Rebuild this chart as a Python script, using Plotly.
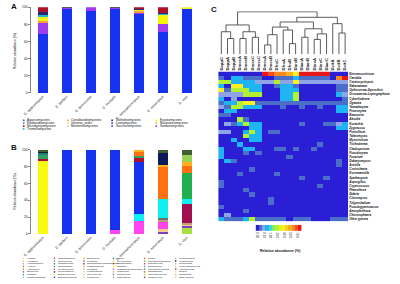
import plotly.graph_objects as go

W, H = 400, 284
def fx(x): return x / W
def fy(y): return 1 - y / H
FONT = "Arial, Liberation Sans, sans-serif"

# ---------------- data: panel A (classes) ----------------
species = ["D. approximatus", "D. barberi", "D. brevicomis", "D. frontalis",
           "D. mesoamericanus", "D. mexicanus", "D. vitei"]

classes_legend = ["Agaricomycetes", "Cystobasidiomycetes", "Dothideomycetes", "Eurotiomycetes",
                  "Exobasidiomycetes", "Incertae_sedis", "Leotiomycetes", "Malasseziomycetes",
                  "Microbotryomycetes", "Mortierellomycetes", "Saccharomycetes", "Sordariomycetes",
                  "Tremellomycetes"]
class_colors = {"Agaricomycetes": "#2f5fd0", "Cystobasidiomycetes": "#f0a040",
                "Dothideomycetes": "#2a2a70", "Eurotiomycetes": "#f5f50a",
                "Exobasidiomycetes": "#3a90d0", "Incertae_sedis": "#f0dca0",
                "Leotiomycetes": "#6a4aa0", "Malasseziomycetes": "#f0c000",
                "Microbotryomycetes": "#b0102a", "Mortierellomycetes": "#e0c0a0",
                "Saccharomycetes": "#1432f0", "Sordariomycetes": "#a03cf0",
                "Tremellomycetes": "#20b8d8"}
saccharomycetes = [69, 98.5, 95.8, 98.5, 92, 70.5, 98.5]
sordariomycetes = [13, 0.5, 4.2, 0.5, 2, 9.2, 0]
cystobasidiomycetes = [2, 0, 0, 0, 1.5, 0, 0]
eurotiomycetes = [5, 0.5, 0, 0.5, 1.5, 11.1, 1.5]
tremellomycetes = [2, 0, 0, 0, 0, 2, 0]
dothideomycetes = [3, 0.5, 0, 0.5, 1.5, 0.2, 0]
microbotryomycetes = [6, 0, 0, 0, 1.5, 7, 0]
class_stack = [("Saccharomycetes", saccharomycetes), ("Sordariomycetes", sordariomycetes),
               ("Cystobasidiomycetes", cystobasidiomycetes), ("Eurotiomycetes", eurotiomycetes),
               ("Tremellomycetes", tremellomycetes), ("Dothideomycetes", dothideomycetes),
               ("Microbotryomycetes", microbotryomycetes)]

# ---------------- data: panel B (genera) ----------------
g_debaryomyces = [0, 0, 0, 0, 0, 0, 8]
g_beauveria = [0, 0, 0, 0, 0, 3, 2]
g_absidia = [0, 0, 0, 0, 0, 3, 2]
g_ophiostoma = [0, 0, 0, 5.5, 16, 9, 0]
g_penicillium = [0, 0, 0, 0, 0, 3, 2]
g_fusarium = [0, 0, 0, 0, 0, 2, 0]
g_grosmannia = [0, 0, 0, 0, 0, 0, 22]
g_ceratocystiopsis = [0, 0, 0, 0, 8, 22, 6]
g_entomocorticium = [0, 100, 100, 94.5, 62, 0, 0]
g_ogataea = [87, 0, 0, 0, 0, 0, 0]
g_yamadazyma = [2.5, 0, 0, 0, 5, 0, 0]
g_peterozyma = [5, 0, 0, 0, 2, 0, 0]
g_candida = [0, 0, 0, 0, 0, 0, 31]
g_nakazawaea = [0, 0, 0, 0, 5, 38, 8]
g_zygoascus = [0, 0, 0, 0, 2, 2, 5]
g_cyberlindnera = [0, 0, 0, 0, 0, 14, 0]
g_kuraishia = [0, 0, 0, 0, 0, 0, 8]
g_cladosporium = [1.5, 0, 0, 0, 0, 0, 0]
g_trichoderma = [2.5, 0, 0, 0, 0, 0, 0]
g_talaromyces = [1.5, 0, 0, 0, 0, 4, 6]
genus_stack = [("Debaryomyces", g_debaryomyces, "#a8e040"), ("Beauveria", g_beauveria, "#8040c0"),
               ("Absidia", g_absidia, "#ffc890"), ("Ophiostoma-Sporothrix", g_ophiostoma, "#ff44f0"),
               ("Penicillium", g_penicillium, "#c0a070"), ("Fusarium", g_fusarium, "#707070"),
               ("Grosmannia-Leptographium", g_grosmannia, "#a01050"),
               ("Ceratocystiopsis", g_ceratocystiopsis, "#10f0f0"),
               ("Entomocorticium", g_entomocorticium, "#1432f0"), ("Ogataea", g_ogataea, "#f8f810"),
               ("Yamadazyma", g_yamadazyma, "#b01030"), ("Peterozyma", g_peterozyma, "#30a060"),
               ("Candida", g_candida, "#20b050"), ("Nakazawaea", g_nakazawaea, "#ff7010"),
               ("Zygoascus", g_zygoascus, "#ffb020"), ("Cyberlindnera", g_cyberlindnera, "#0a1a5a"),
               ("Kuraishia", g_kuraishia, "#98d058"), ("Cladosporium", g_cladosporium, "#208080"),
               ("Trichoderma", g_trichoderma, "#202020"), ("Talaromyces", g_talaromyces, "#406030")]
extra_genera = ["Alternaria", "Amorphotheca", "Arxiella", "Aspergillus", "Chionosphaera",
                "Citeromyces", "Coniochaeta", "Cryptococcus", "Epicoccum", "Hanseniaspora",
                "Kurtzmaniella", "Meyerozyma", "Mortierella", "Mucor", "Myxotrichum",
                "Phaeotheca", "Pichia", "Pseudogymnoascus", "Pseudozyma", "Rhodotorula",
                "Saccharomycopsis", "Spathaspora", "Sporobolomyces", "Tolypocladium",
                "Umbelopsis", "Wickerhamomyces", "Zalaria"]
extra_palette = ["#e6c84a", "#9e9ac8", "#d95f02", "#66a61e", "#e7298a", "#7570b3", "#1b9e77",
                 "#a6761d", "#e6ab02", "#fb9a99", "#cab2d6", "#b2df8a", "#fdbf6f", "#1f78b4"]

# ---------------- data: panel C (heatmap) ----------------
samples = ["DappC", "DappA", "DappB", "DmexA", "DmexB", "DmexC", "DmesC",
           "DmesA", "DmesB", "DfroC", "DfroA", "DfroB", "DbreB", "DbarA",
           "DbarB", "DbreA", "DbreC", "DbarC", "DvitA", "DvitB", "DvitC"]
heat_genera = ["Entomocorticium", "Candida", "Ceratocystiopsis", "Nakazawaea",
               "Ophiostoma-Sporothrix", "Grosmannia-Leptographium", "Cyberlindnera", "Ogataea",
               "Yamadazyma", "Peterozyma", "Beauveria", "Absidia", "Kuraishia", "Zygoascus",
               "Penicillium", "Talaromyces", "Myxotrichum", "Trichoderma", "Cladosporium",
               "Pseudozyma", "Fusarium", "Debaryomyces", "Arxiella", "Coniochaeta",
               "Kurtzmaniella", "Spathaspora", "Aspergillus", "Cryptococcus", "Phaeotheca",
               "Zalaria", "Citeromyces", "Tolypocladium", "Pseudogymnoascus", "Amorphotheca",
               "Chionosphaera", "Other genera"]
# abundance class (index into abundance_bins) per genus, per sample
heat_classes = [
    [0, 0, 0, 0, 0, 0, 0, 13, 12, 11, 11, 10, 8, 13, 13, 13, 13, 13, 0, 0, 0],
    [1, 0, 3, 3, 1, 1, 1, 0, 0, 1, 1, 1, 3, 1, 1, 1, 1, 1, 0, 11, 13],
    [6, 6, 3, 3, 3, 3, 2, 2, 2, 6, 2, 2, 8, 2, 2, 2, 2, 2, 2, 2, 2],
    [3, 0, 8, 8, 3, 3, 3, 0, 0, 1, 3, 3, 1, 0, 0, 0, 0, 0, 0, 1, 1],
    [8, 1, 6, 6, 6, 3, 3, 0, 0, 0, 3, 3, 3, 0, 0, 0, 0, 0, 0, 1, 1],
    [2, 2, 2, 2, 6, 6, 6, 0, 0, 0, 3, 3, 6, 0, 0, 0, 0, 0, 0, 3, 2],
    [3, 0, 2, 0, 0, 0, 0, 0, 0, 0, 3, 3, 6, 0, 0, 0, 0, 0, 0, 0, 1],
    [1, 3, 3, 6, 8, 8, 1, 1, 1, 1, 1, 1, 1, 1, 1, 1, 1, 1, 1, 1, 1],
    [2, 1, 6, 6, 3, 3, 3, 0, 0, 0, 1, 0, 0, 1, 0, 0, 1, 0, 0, 3, 3],
    [0, 3, 3, 0, 0, 0, 0, 0, 0, 0, 0, 0, 0, 0, 0, 0, 0, 0, 0, 3, 3],
    [1, 1, 0, 0, 0, 0, 0, 0, 0, 0, 0, 0, 0, 0, 0, 0, 0, 0, 0, 0, 0],
    [0, 0, 0, 6, 1, 0, 0, 0, 0, 0, 0, 0, 0, 0, 0, 0, 0, 0, 0, 0, 0],
    [0, 2, 1, 3, 6, 3, 3, 0, 0, 0, 0, 0, 0, 1, 0, 0, 0, 1, 1, 2, 3],
    [0, 0, 0, 0, 0, 3, 3, 0, 0, 0, 0, 0, 0, 0, 0, 0, 0, 0, 0, 3, 3],
    [2, 2, 0, 0, 3, 6, 3, 0, 1, 1, 0, 0, 0, 0, 0, 0, 0, 0, 0, 0, 0],
    [0, 0, 0, 0, 6, 3, 3, 0, 0, 0, 0, 0, 0, 0, 0, 0, 0, 0, 0, 0, 0],
    [0, 0, 3, 0, 0, 3, 3, 0, 0, 0, 0, 0, 0, 0, 0, 0, 0, 0, 0, 0, 0],
    [0, 0, 0, 3, 0, 0, 0, 0, 0, 0, 0, 0, 0, 0, 0, 0, 1, 0, 0, 0, 0],
    [3, 0, 0, 0, 3, 3, 0, 0, 0, 1, 1, 0, 1, 0, 0, 1, 0, 0, 0, 0, 0],
    [3, 0, 0, 0, 1, 0, 1, 0, 0, 0, 0, 0, 0, 0, 0, 0, 0, 0, 0, 0, 0],
    [3, 0, 0, 0, 0, 0, 0, 0, 0, 0, 0, 1, 0, 0, 0, 0, 0, 0, 0, 0, 0],
    [0, 3, 1, 0, 0, 0, 0, 0, 0, 0, 0, 0, 0, 0, 0, 0, 0, 0, 0, 1, 0],
    [0, 0, 0, 0, 0, 0, 0, 0, 0, 0, 0, 0, 0, 0, 0, 0, 0, 0, 0, 1, 0],
    [0, 0, 0, 0, 0, 1, 0, 0, 0, 0, 0, 0, 0, 0, 0, 0, 0, 0, 0, 0, 0],
    [0, 0, 0, 1, 0, 0, 0, 0, 0, 1, 0, 0, 0, 0, 0, 0, 0, 0, 0, 0, 0],
    [0, 0, 0, 0, 0, 0, 0, 0, 0, 0, 0, 0, 0, 1, 0, 0, 0, 1, 0, 0, 0],
    [1, 0, 0, 0, 0, 0, 0, 0, 0, 0, 0, 0, 0, 0, 0, 0, 0, 0, 0, 0, 0],
    [1, 0, 0, 0, 0, 0, 0, 0, 0, 0, 0, 0, 0, 0, 0, 0, 1, 0, 0, 0, 0],
    [0, 0, 0, 0, 1, 0, 0, 0, 0, 0, 0, 0, 0, 0, 0, 0, 0, 0, 0, 0, 0],
    [0, 0, 0, 0, 0, 1, 0, 0, 0, 0, 0, 0, 0, 0, 0, 0, 0, 0, 0, 0, 0],
    [0, 0, 0, 0, 0, 0, 0, 0, 1, 0, 0, 0, 0, 0, 0, 0, 0, 0, 0, 0, 0],
    [0, 0, 0, 0, 0, 0, 0, 0, 1, 0, 0, 0, 0, 0, 0, 0, 0, 0, 0, 0, 0],
    [1, 0, 0, 0, 0, 0, 0, 0, 0, 0, 0, 0, 0, 0, 0, 0, 0, 0, 0, 0, 0],
    [0, 0, 0, 0, 1, 0, 0, 0, 0, 0, 0, 0, 0, 0, 0, 0, 0, 0, 0, 0, 0],
    [0, 2, 0, 0, 0, 0, 0, 0, 0, 0, 0, 0, 0, 0, 0, 0, 0, 0, 0, 0, 0],
    [3, 1, 1, 1, 3, 6, 1, 1, 1, 1, 1, 0, 1, 1, 1, 0, 0, 0, 1, 1, 1],
]
abundance_bins = ["0.00", "0.05", "0.10", "0.50", "1.00", "5.00", "10.0", "20.0",
                  "30.0", "40.0", "50.0", "60.0", "70.0", "80.0"]
bin_colors = ["#2b1fd6", "#4b6fc8", "#8ea4e6", "#1eb4f5", "#3cdcd0", "#80f060", "#b4f032",
              "#e0f020", "#f8f020", "#f8d020", "#f8b020", "#f88820", "#f05020", "#e81818"]
# dendrogram: (height, left, right), leaves = sample index
dendro_tree = (1.0,
               (0.69, (0.53, 0, (0.37, 1, 2)), (0.53, (0.37, 3, 4), (0.40, 5, 6))),
               (0.87,
                (0.76, (0.64, (0.46, (0.22, 7, 8), 9), (0.57, 10, (0.25, 11, 12))),
                 (0.60, (0.40, 13, 14), (0.48, (0.35, 15, 16), 17))),
                (0.72, 18, (0.50, 19, 20))))

fig = go.Figure()

# ---- Panel A bars
for name, vals in class_stack:
    fig.add_trace(go.Bar(x=species, y=vals, marker=dict(color=class_colors[name], line=dict(width=0)),
                         width=0.44, xaxis="x", yaxis="y", showlegend=False))
# ---- Panel B bars
for name, vals, col in genus_stack:
    fig.add_trace(go.Bar(x=species, y=vals, marker=dict(color=col, line=dict(width=0)),
                         width=0.44, xaxis="x2", yaxis="y2", showlegend=False))

# ---- Panel C heatmap
n = len(bin_colors)
cscale = []
for i, c in enumerate(bin_colors):
    cscale += [[i / n, c], [(i + 1) / n, c]]
fig.add_trace(go.Heatmap(z=heat_classes, x=samples, y=heat_genera, colorscale=cscale,
                         zmin=-0.5, zmax=n - 0.5, showscale=False, xaxis="x3", yaxis="y3"))
# colour key
fig.add_trace(go.Heatmap(z=[list(range(n))], x=abundance_bins, y=["k"], colorscale=cscale,
                         zmin=-0.5, zmax=n - 0.5, showscale=False, xaxis="x5", yaxis="y5"))

# dendrogram
dx, dy = [], []
def build(node):
    if isinstance(node, int):
        return float(node), 0.0
    h, l, r = node
    xl, hl = build(l)
    xr, hr = build(r)
    dx.extend([xl, xl, xr, xr, None])
    dy.extend([hl, h, h, hr, None])
    return (xl + xr) / 2, h
build(dendro_tree)
fig.add_trace(go.Scatter(x=dx, y=dy, mode="lines", line=dict(color="#333333", width=0.8),
                         xaxis="x4", yaxis="y4", showlegend=False, hoverinfo="skip"))

tick_small = dict(family=FONT, size=3.3, color="#222")
bar_x = dict(range=[-0.5, 6.5], tickangle=-45, tickfont=dict(family=FONT, size=3.6, color="#222"),
             showgrid=False, zeroline=False, showline=False, ticks="", fixedrange=True)
bar_y = dict(range=[0, 100], tickvals=[0, 20, 40, 60, 80, 100], tickfont=tick_small,
             showgrid=False, zeroline=False, showline=True, linecolor="#888", linewidth=0.6,
             ticks="outside", ticklen=1.5, tickwidth=0.5, tickcolor="#888")

fig.update_layout(
    width=W, height=H, margin=dict(l=0, r=0, t=0, b=0), autosize=False,
    paper_bgcolor="white", plot_bgcolor="white", barmode="stack", bargap=0,
    font=dict(family=FONT),
    xaxis=dict(domain=[fx(24), fx(195)], anchor="y", **bar_x),
    yaxis=dict(domain=[fy(92.3), fy(5.3)], anchor="x", **bar_y),
    xaxis2=dict(domain=[fx(24), fx(195)], anchor="y2", **bar_x),
    yaxis2=dict(domain=[fy(235.3), fy(149.7)], anchor="x2", **bar_y),
    xaxis3=dict(domain=[fx(215), fx(347.3)], anchor="y3", side="top", tickangle=-90,
                tickfont=dict(family=FONT, size=4.2, color="#222", weight="bold"),
                showgrid=False, zeroline=False, ticks="", showline=False),
    yaxis3=dict(domain=[fy(222.4), fy(70.5)], anchor="x3", side="right", autorange="reversed",
                tickfont=dict(family=FONT, size=3.0, color="#111", weight="bold", style="italic"),
                showgrid=False, zeroline=False, ticks="", showline=False),
    xaxis4=dict(domain=[fx(215), fx(347.3)], anchor="y4", range=[-0.5, 20.5], visible=False),
    yaxis4=dict(domain=[fy(53), fy(9.5)], anchor="x4", range=[0, 1.01], visible=False),
    xaxis5=dict(domain=[fx(253), fx(300)], anchor="y5", tickangle=90,
                tickfont=dict(family=FONT, size=3.0, color="#222"),
                showgrid=False, zeroline=False, ticks="", showline=False),
    yaxis5=dict(domain=[fy(232.5), fy(226)], anchor="x5", visible=False),
)

shapes, annots = [], []
def label(x, y, text, size=3.2, bold=False, angle=0, xanchor="left"):
    annots.append(dict(x=fx(x), y=fy(y), xref="paper", yref="paper", text=text, showarrow=False,
                       xanchor=xanchor, yanchor="middle", textangle=angle,
                       font=dict(family=FONT, size=size, color="#111", weight="bold" if bold else "normal")))
def square(x, y, col, s=1.7):
    shapes.append(dict(type="rect", xref="paper", yref="paper", x0=fx(x - s / 2), x1=fx(x + s / 2),
                       y0=fy(y + s / 2), y1=fy(y - s / 2), fillcolor=col, line=dict(width=0)))

# legend A (row-major, 4 columns)
colsA = [17, 62, 107, 152]
for i, name in enumerate(classes_legend):
    cx, ry = colsA[i % 4], 120 + 2.9 * (i // 4)
    square(cx, ry, class_colors[name])
    label(cx + 1.5, ry, name)

# legend B (column-major, 6 columns x 8 rows)
gcol = {g: c for g, _, c in genus_stack}
for j, g in enumerate(extra_genera):
    gcol[g] = extra_palette[j % len(extra_palette)]
legend_b = sorted(gcol.keys()) + ["Other genera"]
gcol["Other genera"] = "#c8c8c8"
colsB = [16.7, 48.3, 78.3, 108.3, 140, 171.7]
for i, g in enumerate(legend_b):
    cx, ry = colsB[i // 8], 260 + 2.75 * (i % 8)
    square(cx, ry, gcol[g], 1.4)
    label(cx + 1.2, ry, g, size=2.5)

# axis titles & panel letters
label(8, 50, "Relative abundance (%)", size=3.4, angle=-90, xanchor="center")
label(8, 192.5, "Relative abundance (%)", size=3.4, angle=-90, xanchor="center")
label(2, 5, "A", size=8, bold=True)
label(2, 147.5, "B", size=8, bold=True)
label(206, 8, "C", size=8, bold=True)
label(278, 253, "Relative abundance (%)", size=3.6, bold=True, xanchor="center")

fig.update_layout(shapes=shapes, annotations=annots)
fig.write_html("out.html", config={"displayModeBar": False},
               post_script="document.body.style.margin='0px';document.body.style.overflow='hidden';")
